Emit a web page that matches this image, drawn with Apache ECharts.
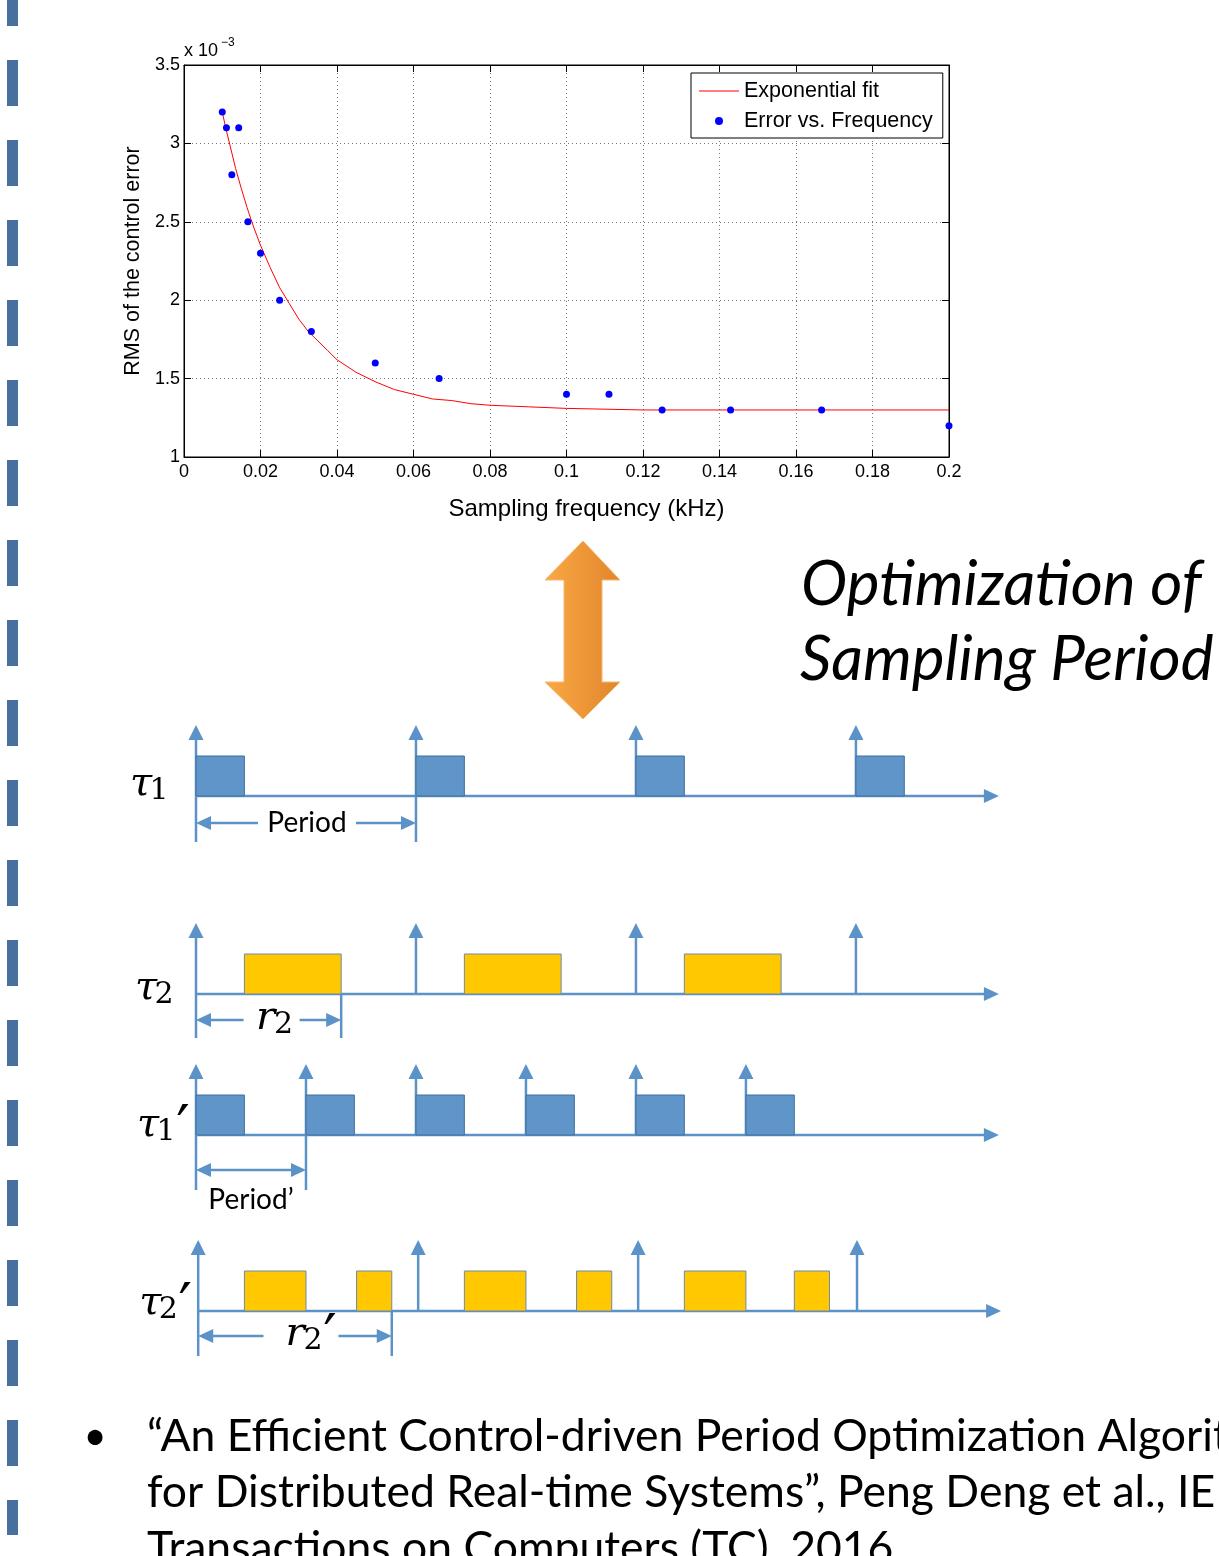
<!DOCTYPE html>
<html>
<head>
<meta charset="utf-8">
<title>Sampling period optimization</title>
<script src="https://cdn.jsdelivr.net/npm/echarts@6/dist/echarts.min.js"></script>
<style>
  html, body { margin: 0; padding: 0; background: #fff; }
  #chart { width: 1219px; height: 1556px; }
</style>
</head>
<body>
<div id="chart"></div>
<script>
// RMS error vs sampling frequency, values in units of 1e-3
var sampleFreq = [0.01, 0.0111, 0.0125, 0.0143, 0.0167, 0.02, 0.025, 0.0333, 0.05, 0.0667, 0.1, 0.1111, 0.125, 0.1429, 0.1667, 0.2];
var rmsError   = [3.2, 3.1, 2.8, 3.1, 2.5, 2.3, 2.0, 1.8, 1.6, 1.5, 1.4, 1.4, 1.3, 1.3, 1.3, 1.2];
// red exponential fit
var fitFreq = [0.01, 0.011, 0.012, 0.0135, 0.015, 0.0165, 0.018, 0.02, 0.0225, 0.025, 0.0275, 0.03, 0.0325, 0.035, 0.0375,
               0.04, 0.045, 0.05, 0.055, 0.06, 0.065, 0.07, 0.075, 0.08, 0.09, 0.1, 0.12, 0.2];
var fitRms  = [3.20, 3.09, 2.99, 2.84, 2.71, 2.59, 2.48, 2.35, 2.21, 2.08, 1.98, 1.88, 1.80, 1.74, 1.68,
               1.62, 1.54, 1.48, 1.43, 1.40, 1.37, 1.36, 1.34, 1.33, 1.32, 1.31, 1.30, 1.30];

// timing diagram (time in tenths of tau1's period, rows on a hidden axis)
var rowNames = [['τ', '1', ''], ['τ', '2', ''], ['τ', '1', '′'], ['τ', '2', '′']];
var rowLevel = [9.6, 29.4, 43.5, 61.1];
var rowStart = [0, 0, 0, 0.1];
var rowEnd   = [36.5, 36.5, 36.5, 36.6];
var tau1Release  = [0, 10, 20, 30];
var tau1Jobs     = [[0, 2.2], [10, 12.2], [20, 22.2], [30, 32.2]];
var tau2Release  = [0, 10, 20, 30];
var tau2Jobs     = [[2.2, 6.6], [12.2, 16.6], [22.2, 26.6]];
var tau1pRelease = [0, 5, 10, 15, 20, 25];
var tau1pJobs    = [[0, 2.2], [5, 7.2], [10, 12.2], [15, 17.2], [20, 22.2], [25, 27.2]];
var tau2pRelease = [0.1, 10.1, 20.1, 30.05];
var tau2pJobs    = [[2.2, 5], [7.3, 8.9], [12.2, 15], [17.3, 18.9], [22.2, 25], [27.2, 28.8]];
var spanRow   = [0, 1, 2, 3];
var spanFrom  = [0, 0, 0, 0.1];
var spanTo    = [10, 6.6, 5, 8.9];
var spanLabel = ['Period', 'r2', 'Period’', 'r2′'];

// layout / style
var spanDrop = [4.6, 4.4, 5.5, 4.5];
var spanArrowAt = [2.7, 2.6, 3.5, 2.5];
var spanGap = [98, 56, 0, 75];
var spanShift = [1, 3, 0, 6];
var labelShift = [[-55, -11], [-50, -5], [-48, -9], [-48, -7]];
var boxH = 4, arrowH = 7.1;
var lineBlue = '#5B93C9';
var serif = '"DejaVu Serif"';

function pairs(a, b) {
  return a.map(function (v, i) { return [v, b[i]]; });
}

var releaseData = [];
[tau1Release, tau2Release, tau1pRelease, tau2pRelease].forEach(function (list, row) {
  list.forEach(function (t) { releaseData.push([t, row]); });
});
var jobData = [];
[tau1Jobs, tau2Jobs, tau1pJobs, tau2pJobs].forEach(function (list, row) {
  list.forEach(function (j) { jobData.push([j[0], row, j[1]]); });
});
var rowData = rowLevel.map(function (lv, i) { return [rowStart[i], i, rowEnd[i]]; });
var spanData = spanRow.map(function (r, i) { return [spanFrom[i], r, spanTo[i]]; });

function txt(s, x, y, font, align) {
  return { type: 'text', x: x, y: y, style: { text: s, font: font, fill: '#000', align: align || 'center', verticalAlign: 'middle' } };
}

function mathLabel(base, sub, prime, cx, cy) {
  var out = [
    txt(base, cx, cy, 'italic 40px ' + serif),
    txt(sub, cx + 18, cy + 6, '30px ' + serif)
  ];
  if (prime) out.push(txt('′', cx + 35, cy + 6, '60px ' + serif));
  return out;
}

function upHead(x, y) { return { type: 'polygon', shape: { points: [[x, y], [x - 7.5, y + 15], [x + 7.5, y + 15]] }, style: { fill: lineBlue } }; }
function rightHead(x, y) { return { type: 'polygon', shape: { points: [[x, y], [x - 15, y - 7], [x - 15, y + 7]] }, style: { fill: lineBlue } }; }
function leftHead(x, y) { return { type: 'polygon', shape: { points: [[x, y], [x + 15, y - 7], [x + 15, y + 7]] }, style: { fill: lineBlue } }; }
function seg(x1, y1, x2, y2) { return { type: 'line', shape: { x1: x1, y1: y1, x2: x2, y2: y2 }, style: { stroke: lineBlue, lineWidth: 2.5 } }; }

var chart = echarts.init(document.getElementById('chart'));
var axisFont = { fontFamily: 'Liberation Sans', fontSize: 18, color: '#000' };

chart.setOption({
  backgroundColor: '#fff',
  animation: false,
  grid: [
    { left: 184, top: 65, width: 765, height: 392, show: true, borderColor: '#000', borderWidth: 1, containLabel: false, outerBoundsMode: 'none' },
    { left: 196, top: 700, width: 804, height: 680, containLabel: false, outerBoundsMode: 'none' }
  ],
  legend: {
    data: [
      { name: 'Exponential fit', icon: 'path://M0,0L40,0L40,1L0,1Z' },
      { name: 'Error vs. Frequency', icon: 'circle' }
    ],
    left: 691, top: 73, orient: 'vertical',
    backgroundColor: '#fff', borderColor: '#000', borderWidth: 1, borderRadius: 0,
    padding: [7, 10, 6, 8], itemGap: 8, itemWidth: 40, itemHeight: 8, itemTextGap: 5,
    selectedMode: false,
    textStyle: { fontFamily: 'Liberation Sans', fontSize: 21.5, color: '#000' }
  },
  xAxis: [
    {
      gridIndex: 0, type: 'value', min: 0, max: 0.2, interval: 0.02,
      axisLine: { onZero: false, lineStyle: { color: '#000', width: 1 } },
      axisTick: { inside: true, length: 7, lineStyle: { color: '#000' } },
      axisLabel: Object.assign({ margin: 6, formatter: function (v) { return String(Math.round(v * 100) / 100); } }, axisFont),
      splitLine: { show: true, lineStyle: { color: '#777', type: [1, 3] } },
      name: 'Sampling frequency (kHz)', nameLocation: 'middle', nameGap: 40,
      nameTextStyle: { fontFamily: 'Liberation Sans', fontSize: 24, color: '#000', padding: [0, 0, 0, 40] }
    },
    {
      gridIndex: 0, type: 'value', position: 'top', min: 0, max: 0.2, interval: 0.02,
      axisLine: { onZero: false, lineStyle: { color: '#000' } },
      axisTick: { inside: true, length: 7, lineStyle: { color: '#000' } },
      axisLabel: { show: false }, splitLine: { show: false }
    },
    { gridIndex: 1, type: 'value', min: 0, max: 36.55, show: false }
  ],
  yAxis: [
    {
      gridIndex: 0, type: 'value', min: 1, max: 3.5, interval: 0.5,
      axisLine: { onZero: false, lineStyle: { color: '#000', width: 1 } },
      axisTick: { inside: true, length: 7, lineStyle: { color: '#000' } },
      axisLabel: Object.assign({ margin: 4 }, axisFont),
      splitLine: { show: true, lineStyle: { color: '#777', type: [1, 3] } },
      name: 'RMS of the control error', nameLocation: 'middle', nameGap: 37, nameRotate: 90,
      nameTextStyle: { fontFamily: 'Liberation Sans', fontSize: 21.5, color: '#000' }
    },
    {
      gridIndex: 0, type: 'value', position: 'right', min: 1, max: 3.5, interval: 0.5,
      axisLine: { onZero: false, lineStyle: { color: '#000' } },
      axisTick: { inside: true, length: 7, lineStyle: { color: '#000' } },
      axisLabel: { show: false }, splitLine: { show: false }
    },
    { gridIndex: 1, type: 'value', min: 0, max: 68, inverse: true, show: false }
  ],
  series: [
    {
      name: 'Exponential fit', type: 'line', xAxisIndex: 0, yAxisIndex: 0,
      data: pairs(fitFreq, fitRms), smooth: false,
      symbol: 'none', showSymbol: false, color: '#ff0000',
      itemStyle: { color: '#ff0000' },
      lineStyle: { color: '#ff0000', width: 1 }, z: 3
    },
    {
      name: 'Error vs. Frequency', type: 'scatter', xAxisIndex: 0, yAxisIndex: 0,
      data: pairs(sampleFreq, rmsError), symbol: 'circle', symbolSize: 7,
      itemStyle: { color: '#0000ff', opacity: 1 }, z: 4
    },
    {
      // task rows: baseline arrow and row label
      type: 'custom', xAxisIndex: 2, yAxisIndex: 2, silent: true, data: rowData,
      renderItem: function (params, api) {
        var i = params.dataIndex;
        var a = api.coord([api.value(0), rowLevel[i]]);
        var b = api.coord([api.value(2), rowLevel[i]]);
        var n = rowNames[i], s = labelShift[i];
        return {
          type: 'group',
          children: [seg(a[0], a[1], b[0] - 12, b[1]), rightHead(b[0], b[1])]
            .concat(mathLabel(n[0], n[1], n[2], a[0] + s[0], a[1] + s[1]))
        };
      }
    },
    {
      // release arrows
      type: 'custom', xAxisIndex: 2, yAxisIndex: 2, silent: true, data: releaseData,
      renderItem: function (params, api) {
        var lv = rowLevel[api.value(1)];
        var a = api.coord([api.value(0), lv]);
        var b = api.coord([api.value(0), lv - arrowH]);
        return { type: 'group', children: [seg(a[0], a[1], b[0], b[1] + 12), upHead(b[0], b[1])] };
      }
    },
    {
      // job executions
      type: 'custom', xAxisIndex: 2, yAxisIndex: 2, silent: true, data: jobData,
      renderItem: function (params, api) {
        var row = api.value(1), lv = rowLevel[row];
        var p0 = api.coord([api.value(0), lv - boxH]);
        var p1 = api.coord([api.value(2), lv]);
        var blue = row % 2 === 0;
        return {
          type: 'rect',
          shape: { x: p0[0], y: p0[1], width: p1[0] - p0[0], height: p1[1] - p0[1] },
          style: { fill: blue ? '#5F95C9' : '#FFC800', stroke: blue ? '#41719C' : '#6D89AD', lineWidth: 1 }
        };
      }
    },
    {
      // period / response time spans
      type: 'custom', xAxisIndex: 2, yAxisIndex: 2, silent: true, data: spanData,
      renderItem: function (params, api) {
        var i = params.dataIndex, lv = rowLevel[api.value(1)];
        var a = api.coord([api.value(0), lv]);
        var b = api.coord([api.value(2), lv]);
        var yEnd = api.coord([0, lv + spanDrop[i]])[1];
        var yArr = api.coord([0, lv + spanArrowAt[i]])[1];
        var kids = [
          seg(a[0], a[1], a[0], yEnd), seg(b[0], b[1], b[0], yEnd),
          seg(a[0] + 12, yArr, b[0] - 12, yArr), leftHead(a[0], yArr), rightHead(b[0], yArr)
        ];
        var lab = spanLabel[i];
        var cx = (a[0] + b[0]) / 2 + spanShift[i];
        if (spanGap[i] > 0) {
          kids.push({ type: 'rect', shape: { x: cx - spanGap[i] / 2, y: yArr - 6, width: spanGap[i], height: 12 }, style: { fill: '#fff' } });
        }
        if (lab.charAt(0) === 'r') {
          kids = kids.concat(mathLabel('r', lab.charAt(1), lab.charAt(2), cx - 6, yArr - 1));
        } else if (spanGap[i] > 0) {
          kids.push(txt(lab, cx, yArr, '28px Lato'));
        } else {
          kids.push(txt(lab, cx, api.coord([0, lv + spanDrop[i] + 1])[1], '28px Lato'));
        }
        return { type: 'group', children: kids };
      }
    }
  ],
  graphic: [
    // dashed slide border on the left
    { type: 'line', silent: true, shape: { x1: 12.5, y1: -20, x2: 12.5, y2: 1535 },
      style: { stroke: '#47709E', lineWidth: 11, lineDash: [46, 34] } },
    // exponent of the y axis
    { type: 'text', x: 184, y: 51, style: { text: 'x 10', font: '18px "Liberation Sans"', fill: '#000', align: 'left', verticalAlign: 'middle' } },
    { type: 'text', x: 221, y: 43, style: { text: '−3', font: '12px "Liberation Sans"', fill: '#000', align: 'left', verticalAlign: 'middle' } },
    // orange double arrow
    { type: 'polygon', silent: true,
      shape: { points: [[583, 541], [620, 580], [602, 580], [602, 682], [620, 682], [583, 719], [545, 682], [564, 682], [564, 580], [545, 580]] },
      style: {
        fill: new echarts.graphic.LinearGradient(0, 0, 1, 0, [{ offset: 0, color: '#FBA845' }, { offset: 1, color: '#E0862C' }]),
        stroke: '#F7B870', lineWidth: 1
      } },
    { type: 'text', x: 801, y: 585, style: { text: 'Optimization of', font: 'italic 62px Lato', fill: '#000', align: 'left', verticalAlign: 'middle' } },
    { type: 'text', x: 800, y: 660, style: { text: 'Sampling Period', font: 'italic 62px Lato', fill: '#000', align: 'left', verticalAlign: 'middle' } },
    // citation
    { type: 'text', x: 95, y: 1437, style: { text: '•', font: '40px Lato', fill: '#000', align: 'center', verticalAlign: 'middle' } },
    { type: 'text', x: 147, y: 1437, style: { text: '“An Efficient Control-driven Period Optimization Algorithm', font: '44.5px Lato', fill: '#000', align: 'left', verticalAlign: 'middle' } },
    { type: 'text', x: 147, y: 1493, style: { text: 'for Distributed Real-time Systems”, Peng Deng et al., IEEE', font: '44.5px Lato', fill: '#000', align: 'left', verticalAlign: 'middle' } },
    { type: 'text', x: 147, y: 1549, style: { text: 'Transactions on Computers (TC), 2016', font: '44.5px Lato', fill: '#000', align: 'left', verticalAlign: 'middle' } }
  ]
});
</script>
</body>
</html>
